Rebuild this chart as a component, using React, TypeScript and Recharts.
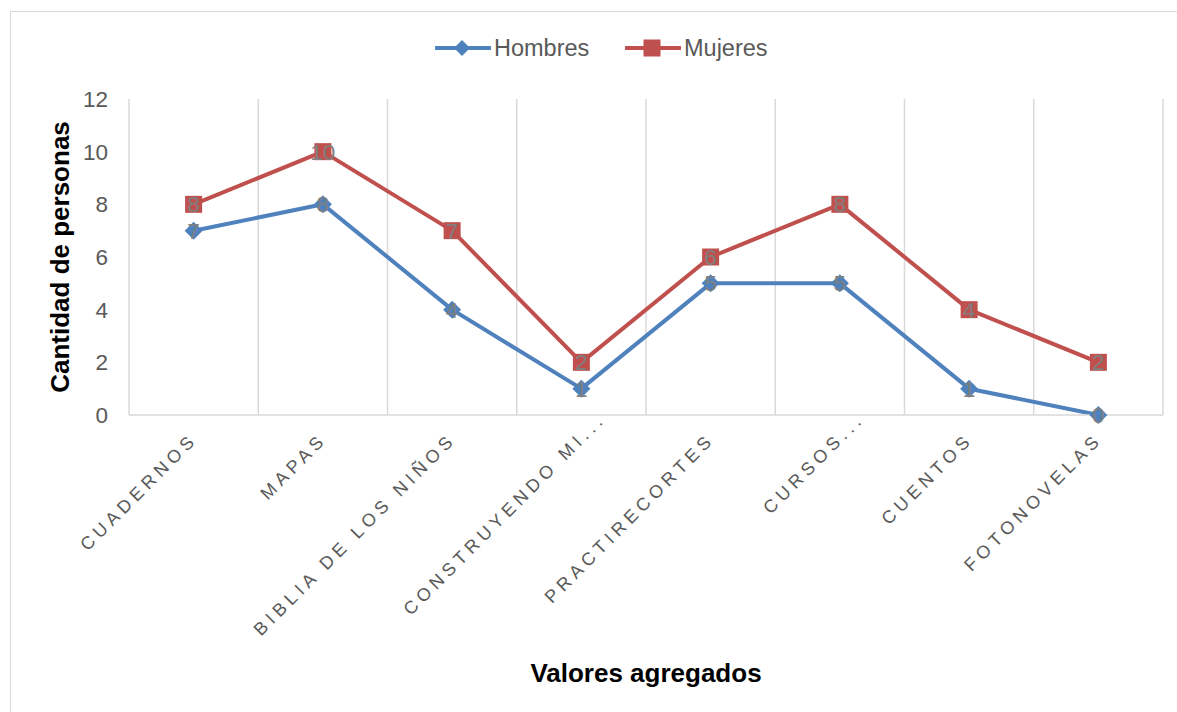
import React from "react";
import {
  LineChart,
  Line,
  XAxis,
  YAxis,
  CartesianGrid,
  Legend,
  Label,
  LabelList,
} from "recharts";

const categories = [
  "CUADERNOS",
  "MAPAS",
  "BIBLIA DE LOS NIÑOS",
  "CONSTRUYENDO MI…",
  "PRACTIRECORTES",
  "CURSOS…",
  "CUENTOS",
  "FOTONOVELAS",
];
const hombres = [7, 8, 4, 1, 5, 5, 1, 0];
const mujeres = [8, 10, 7, 2, 6, 8, 4, 2];
const yTicks = [0, 2, 4, 6, 8, 10, 12];

const BLUE = "#4f81bd";
const RED = "#c0504d";
const GRID = "#d9d9d9";
const TEXT = "#595959";
const FONT = '"Liberation Sans", Arial, sans-serif';

const W = 1161;
const H = 696;
const PLOT_W = 1034;
const halfBand = PLOT_W / categories.length / 2;

const data = categories.map((name, i) => ({
  name,
  hombres: hombres[i],
  mujeres: mujeres[i],
}));

// Excel-style truncated label: the text ends at the anchor, the dots run past it
function XTick(props: any) {
  const { x, y, payload } = props;
  const tx = x + 5;
  const ty = y + 25.5;
  const value: string = payload.value;
  const cut = value.endsWith("…");
  const main = cut ? value.slice(0, -1) : value;
  const common = {
    x: tx,
    y: ty,
    transform: `rotate(-45 ${tx} ${ty})`,
    fill: TEXT,
    fontSize: 18,
    letterSpacing: 4.7,
  };
  return (
    <g>
      <text {...common} textAnchor="end">
        {main}
      </text>
      {cut && (
        <text {...common} textAnchor="start">
          ...
        </text>
      )}
    </g>
  );
}

function Diamond(props: any) {
  const { cx, cy, index } = props;
  if (cx == null || cy == null) return <g key={index} />;
  const r = 9;
  return (
    <path
      key={`d-${index}`}
      d={`M${cx},${cy - r}L${cx + r},${cy}L${cx},${cy + r}L${cx - r},${cy}Z`}
      fill={BLUE}
    />
  );
}

function Square(props: any) {
  const { cx, cy, index } = props;
  if (cx == null || cy == null) return <g key={index} />;
  const r = 8.5;
  return (
    <rect key={`s-${index}`} x={cx - r} y={cy - r} width={r * 2} height={r * 2} fill={RED} />
  );
}

function PointLabel(props: any) {
  const x = typeof props.x === "number" ? props.x : props.viewBox?.x;
  const y = typeof props.y === "number" ? props.y : props.viewBox?.y;
  return (
    <text x={x} y={y} dy="0.36em" textAnchor="middle" fill="#7f7f7f" fontSize={22.5}>
      {props.value}
    </text>
  );
}

function YTitle(props: any) {
  const vb = props.viewBox;
  const x = vb.x + 20;
  const y = vb.y + vb.height / 2;
  return (
    <text
      x={x}
      y={y}
      transform={`rotate(-90 ${x} ${y})`}
      textAnchor="middle"
      fontSize={26}
      fontWeight="bold"
      fill="#000"
    >
      Cantidad de personas
    </text>
  );
}

function XTitle(props: any) {
  const vb = props.viewBox;
  return (
    <text
      x={vb.x + vb.width / 2}
      y={vb.y + 267}
      textAnchor="middle"
      fontSize={26}
      fontWeight="bold"
      fill="#000"
    >
      Valores agregados
    </text>
  );
}

function LegendContent() {
  const items = [
    { label: "Hombres", color: BLUE, shape: "diamond" },
    { label: "Mujeres", color: RED, shape: "square" },
  ];
  return (
    <div style={{ display: "flex", height: 30, alignItems: "center" }}>
      {items.map((it) => (
        <div key={it.label} style={{ display: "flex", alignItems: "center", width: 190 }}>
          <svg width={56} height={30}>
            <line x1={1} y1={15} x2={55} y2={15} stroke={it.color} strokeWidth={4} strokeLinecap="round" />
            {it.shape === "diamond" ? (
              <path d="M27,7L35,15L27,23L19,15Z" fill={it.color} />
            ) : (
              <rect x={18.5} y={6.5} width={17} height={17} fill={it.color} />
            )}
          </svg>
          <span style={{ marginLeft: 3, fontSize: 23.5, color: TEXT, lineHeight: "30px" }}>
            {it.label}
          </span>
        </div>
      ))}
    </div>
  );
}

export default function App() {
  const n = categories.length;
  return (
    <div
      style={{
        position: "relative",
        width: 1177,
        height: 712,
        overflow: "hidden",
        fontFamily: FONT,
        background: "#fff",
      }}
    >
      <style>{"body{margin:0}"}</style>
      <div
        style={{
          position: "absolute",
          left: 10,
          top: 11,
          width: 2000,
          height: 2000,
          border: `1.5px solid ${GRID}`,
        }}
      />
      <div style={{ position: "absolute", left: 8, top: 8 }}>
        <LineChart
          width={W}
          height={H}
          data={data}
          margin={{ top: 61, right: 6, left: 41, bottom: 59 }}
        >
          <CartesianGrid
            horizontal={false}
            stroke={GRID}
            strokeWidth={1.5}
            verticalCoordinatesGenerator={({ offset }: any) =>
              Array.from({ length: n + 1 }, (_, i) => offset.left + (i * offset.width) / n)
            }
          />
          <XAxis
            dataKey="name"
            interval={0}
            padding={{ left: halfBand, right: halfBand }}
            axisLine={{ stroke: GRID, strokeWidth: 1.5 }}
            tickLine={false}
            tickSize={0}
            tickMargin={0}
            height={230}
            tick={<XTick />}
          >
            <Label content={<XTitle />} />
          </XAxis>
          <YAxis
            domain={[0, 12]}
            ticks={yTicks}
            axisLine={false}
            tickLine={false}
            tickSize={0}
            tickMargin={21}
            width={80}
            tick={{ fill: TEXT, fontSize: 22.5 }}
          >
            <Label content={<YTitle />} />
          </YAxis>
          <Legend
            verticalAlign="top"
            content={<LegendContent />}
            wrapperStyle={{ top: 25, left: 427, width: 400, height: 30 }}
          />
          <Line
            type="linear"
            dataKey="hombres"
            name="Hombres"
            stroke={BLUE}
            strokeWidth={4}
            strokeLinejoin="round"
            dot={(p: any) => <Diamond key={`hd-${p.index}`} {...p} />}
            activeDot={false}
            isAnimationActive={false}
          >
            <LabelList dataKey="hombres" content={<PointLabel />} />
          </Line>
          <Line
            type="linear"
            dataKey="mujeres"
            name="Mujeres"
            stroke={RED}
            strokeWidth={4}
            strokeLinejoin="round"
            dot={(p: any) => <Square key={`md-${p.index}`} {...p} />}
            activeDot={false}
            isAnimationActive={false}
          >
            <LabelList dataKey="mujeres" content={<PointLabel />} />
          </Line>
        </LineChart>
      </div>
    </div>
  );
}
